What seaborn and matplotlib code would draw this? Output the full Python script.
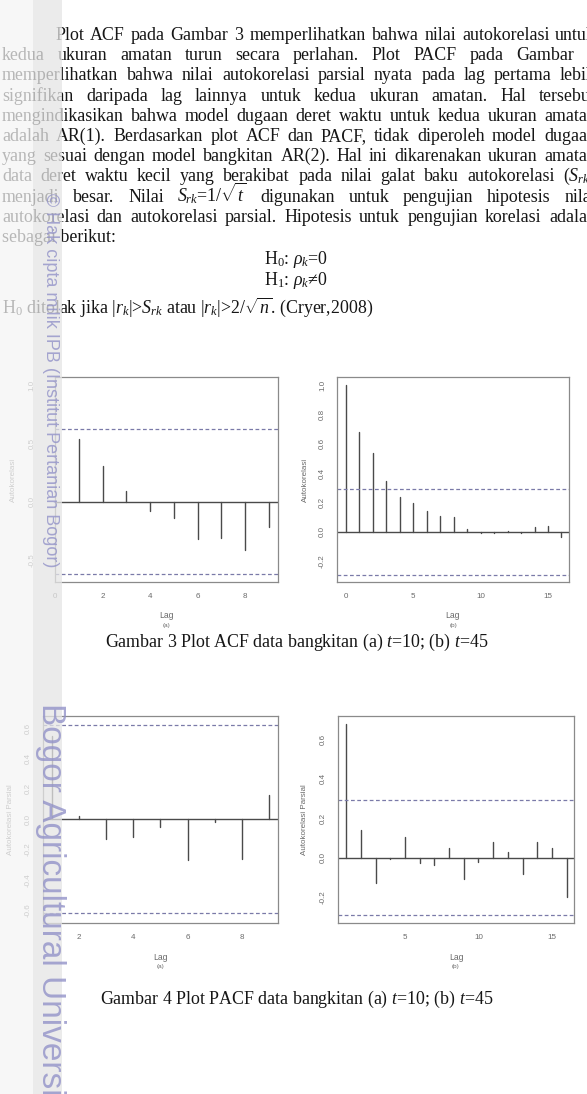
import numpy as np
import pandas as pd
import matplotlib
matplotlib.use("Agg")
import matplotlib.pyplot as plt
import seaborn as sns
from matplotlib.patches import Rectangle

# nilai ACF / PACF yang dibaca dari gambar
acf_a_lag = [1, 2, 3, 4, 5, 6, 7, 8, 9]
acf_a_nilai = [0.54, 0.31, 0.09, -0.08, -0.14, -0.32, -0.31, -0.41, -0.22]
acf_b_lag = list(range(0, 17))
acf_b_nilai = [1.0, 0.68, 0.54, 0.35, 0.235, 0.2, 0.143, 0.107, 0.1, 0.018,
               -0.008, -0.005, 0.009, -0.005, 0.032, 0.043, -0.034]
pacf_a_lag = [1, 2, 3, 4, 5, 6, 7, 8, 9]
pacf_a_nilai = [0.55, 0.022, -0.13, -0.12, -0.05, -0.27, -0.02, -0.26, 0.16]
pacf_b_lag = list(range(1, 17))
pacf_b_nilai = [0.68, 0.141, -0.131, -0.009, 0.104, -0.026, -0.037, 0.049,
                -0.109, -0.022, 0.08, 0.029, -0.085, 0.078, 0.046, -0.199]
batas_t10 = 0.62    # 2/sqrt(10)
batas_t45 = 0.292   # 2/sqrt(45)

paragraf = [
    "Plot ACF pada Gambar 3 memperlihatkan bahwa nilai autokorelasi untuk",
    "kedua ukuran amatan turun secara perlahan. Plot PACF pada Gambar 4",
    "memperlihatkan bahwa nilai autokorelasi parsial nyata pada lag pertama lebih",
    "signifikan daripada lag lainnya untuk kedua ukuran amatan. Hal tersebut",
    "mengindikasikan bahwa model dugaan deret waktu untuk kedua ukuran amatan",
    "adalah AR(1). Berdasarkan plot ACF dan PACF, tidak diperoleh model dugaan",
    "yang sesuai dengan model bangkitan AR(2). Hal ini dikarenakan ukuran amatan",
    r"data deret waktu kecil yang berakibat pada nilai galat baku autokorelasi ($S_{rk}$)",
    r"menjadi besar. Nilai $S_{rk}$=1/$\sqrt{t}$ digunakan untuk pengujian hipotesis nilai",
    "autokorelasi dan autokorelasi parsial. Hipotesis untuk pengujian korelasi adalah",
]
baris_akhir = "sebagai berikut:"
hipotesis = [r"H$_0$: $\rho_k$=0", r"H$_1$: $\rho_k$≠0"]
kriteria = r"H$_0$ ditolak jika |$r_k$|>$S_{rk}$ atau |$r_k$|>2/$\sqrt{n}$. (Cryer,2008)"
judul3 = r"Gambar 3 Plot ACF data bangkitan (a) $t$=10; (b) $t$=45"
judul4 = r"Gambar 4 Plot PACF data bangkitan (a) $t$=10; (b) $t$=45"

W, H = 587, 1094
sns.set_style("white")
plt.rcParams["font.family"] = ["Liberation Serif", "DejaVu Serif"]
plt.rcParams["mathtext.fontset"] = "custom"
plt.rcParams["mathtext.rm"] = "Liberation Serif"
plt.rcParams["mathtext.it"] = "Liberation Serif:italic"
plt.rcParams["mathtext.bf"] = "Liberation Serif:bold"

fig = plt.figure(figsize=(W / 100, H / 100), dpi=100)
renderer = fig.canvas.get_renderer()
FS = 12.9
WARNA_TEKS = "#161616"


def tulis_rata(teks, y, x0, x1):
    kata = teks.split(" ")
    objs = [fig.text(0, 1 - y / H, k, fontsize=FS, color=WARNA_TEKS, va="baseline") for k in kata]
    lebar = [o.get_window_extent(renderer).width for o in objs]
    jarak = (x1 - x0 - sum(lebar)) / (len(kata) - 1)
    x = x0
    for o, w in zip(objs, lebar):
        o.set_x(x / W)
        x += w + jarak


for i, baris in enumerate(paragraf):
    tulis_rata(baris, 40 + i * 20.2, 55 if i == 0 else 2, 596)
fig.text(2 / W, 1 - 242 / H, baris_akhir, fontsize=FS, color=WARNA_TEKS, va="baseline")
fig.text(264 / W, 1 - 264 / H, hipotesis[0], fontsize=FS, color=WARNA_TEKS, va="baseline")
fig.text(264 / W, 1 - 285 / H, hipotesis[1], fontsize=FS, color=WARNA_TEKS, va="baseline")
fig.text(2 / W, 1 - 313 / H, kriteria, fontsize=FS, color=WARNA_TEKS, va="baseline")
fig.text(105 / W, 1 - 647 / H, judul3, fontsize=FS, color=WARNA_TEKS, va="baseline")
fig.text(100 / W, 1 - 1004 / H, judul4, fontsize=FS, color=WARNA_TEKS, va="baseline")

ABU = "#6a6a6a"


def panel(kotak, lag, nilai, batas, xlim, ylim, xticks, yticks, ylabel, tag, ypad, ylab_off):
    l, t, r, b = kotak
    ax = fig.add_axes([l / W, 1 - b / H, (r - l) / W, (b - t) / H])
    df = pd.DataFrame({
        "lag": np.repeat(lag, 2),
        "nilai": np.column_stack([np.zeros(len(nilai)), nilai]).ravel(),
    })
    sns.lineplot(data=df, x="lag", y="nilai", units="lag", estimator=None,
                 color="#4a4a4a", lw=1.0, ax=ax)
    ax.axhline(0, color="#4a4a4a", lw=1.0)
    for s in (batas, -batas):
        ax.axhline(s, color="#7a7aa8", lw=0.9, ls=(0, (3, 2)))
    ax.set_xlim(*xlim)
    ax.set_ylim(*ylim)
    ax.set_xlabel("")
    ax.set_ylabel("")
    ax.set_xticks(xticks, [str(v) for v in xticks], family="Liberation Sans")
    ax.set_yticks(yticks, ["%.1f" % v for v in yticks], rotation=90, va="center",
                  family="Liberation Sans")
    ax.tick_params(direction="out", length=3.6, width=0.8, color="#888888",
                   labelsize=5.8, labelcolor=ABU)
    ax.tick_params(axis="x", pad=4.6)
    ax.tick_params(axis="y", pad=ypad)
    for sp in ax.spines.values():
        sp.set_color("#8a8a8a")
        sp.set_linewidth(0.9)
    kw = dict(xycoords="axes fraction", textcoords="offset points", ha="center",
              va="center", color=ABU, family="Liberation Sans")
    ax.annotate(ylabel, xy=(0, 0.5), xytext=(-ylab_off * 0.72, 0), rotation=90,
                fontsize=5.8, **kw)
    ax.annotate("Lag", xy=(0.5, 0), xytext=(0, -34 * 0.72), fontsize=6.2, **kw)
    ax.annotate(tag, xy=(0.5, 0), xytext=(0, -43.5 * 0.72), fontsize=4.6, **kw)
    return ax


panel((55, 377, 278, 582), acf_a_lag, acf_a_nilai, batas_t10, (0.04, 9.38),
      (-0.687, 1.069), [0, 2, 4, 6, 8], [-0.5, 0.0, 0.5, 1.0], "Autokorelasi", "(a)", 10.4, 42)
panel((337, 377, 569, 582), acf_b_lag, acf_b_nilai, batas_t45, (-0.67, 16.56),
      (-0.34, 1.054), [0, 5, 10, 15], [-0.2, 0.0, 0.2, 0.4, 0.6, 0.8, 1.0], "Autokorelasi",
      "(b)", 4.3, 32)
panel((43, 716, 278, 923), pacf_a_lag, pacf_a_nilai, batas_t10, (0.68, 9.32),
      (-0.685, 0.68), [2, 4, 6, 8], [-0.6, -0.4, -0.2, 0.0, 0.2, 0.4, 0.6],
      "Autokorelasi Parsial", "(a)", 4.3, 33)
panel((338, 716, 574, 923), pacf_b_lag, pacf_b_nilai, batas_t45, (0.44, 16.5),
      (-0.333, 0.72), [5, 10, 15], [-0.2, 0.0, 0.2, 0.4, 0.6],
      "Autokorelasi Parsial", "(b)", 4.3, 33)

# pita tepi hasil pindaian dan tanda air
fig.add_artist(Rectangle((0, 0), 62 / W, 1, transform=fig.transFigure,
                         facecolor="white", alpha=0.5, lw=0, zorder=10))
fig.add_artist(Rectangle((0, 0), 33 / W, 1, transform=fig.transFigure,
                         facecolor="#eeeeee", alpha=0.45, lw=0, zorder=11))
fig.add_artist(Rectangle((33 / W, 0), 29 / W, 1, transform=fig.transFigure,
                         facecolor="#d9d9d9", alpha=0.5, lw=0, zorder=11))
fig.text(50 / W, 1 - 193 / H, "© Hak cipta milik IPB (Institut Pertanian Bogor)",
         rotation=-90, ha="center", va="top", fontsize=13, color="#9292c8",
         family="Liberation Sans", alpha=0.8, zorder=12)
fig.text(50 / W, 1 - 703 / H, "Bogor Agricultural University",
         rotation=-90, ha="center", va="top", fontsize=24, color="#9292c8",
         family="Liberation Sans", alpha=0.8, zorder=12)

fig.savefig("out.png", dpi=100)
